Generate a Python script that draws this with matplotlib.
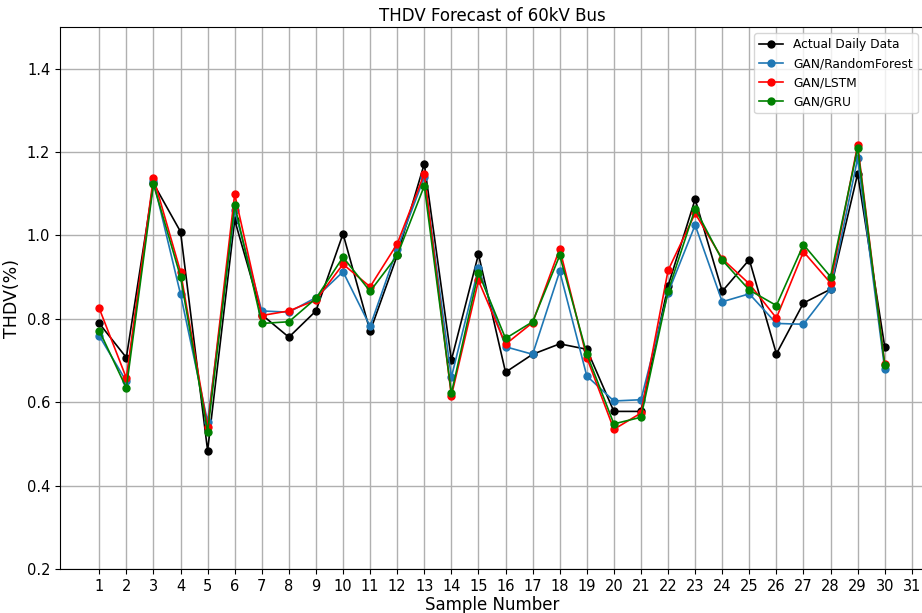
import numpy as np
import matplotlib
matplotlib.use("Agg")
from matplotlib import pyplot as plt

samples = list(range(1, 31))

actual = [0.789, 0.707, 1.125, 1.009, 0.484, 1.037, 0.810, 0.756, 0.819, 1.004,
          0.770, 0.952, 1.172, 0.701, 0.955, 0.672, 0.715, 0.740, 0.727, 0.578,
          0.578, 0.879, 1.087, 0.866, 0.942, 0.716, 0.838, 0.871, 1.148, 0.733]
gan_rf = [0.759, 0.650, 1.131, 0.859, 0.553, 1.060, 0.819, 0.816, 0.851, 0.913,
          0.782, 0.968, 1.140, 0.660, 0.922, 0.733, 0.715, 0.914, 0.663, 0.603,
          0.606, 0.862, 1.025, 0.841, 0.860, 0.789, 0.787, 0.871, 1.185, 0.679]
gan_lstm = [0.825, 0.658, 1.139, 0.913, 0.540, 1.099, 0.808, 0.819, 0.845, 0.931,
            0.877, 0.980, 1.148, 0.615, 0.892, 0.739, 0.791, 0.968, 0.707, 0.535,
            0.574, 0.916, 1.053, 0.944, 0.884, 0.802, 0.961, 0.886, 1.217, 0.692]
gan_gru = [0.772, 0.634, 1.123, 0.901, 0.529, 1.073, 0.789, 0.793, 0.849, 0.948,
           0.866, 0.952, 1.119, 0.621, 0.911, 0.753, 0.793, 0.952, 0.716, 0.548,
           0.564, 0.866, 1.064, 0.941, 0.869, 0.832, 0.978, 0.901, 1.210, 0.690]

series = [
    ("Actual Daily Data", actual, "k"),
    ("GAN/RandomForest", gan_rf, "#1f77b4"),
    ("GAN/LSTM", gan_lstm, "r"),
    ("GAN/GRU", gan_gru, "g"),
]

fig = plt.figure(figsize=(9.22, 6.13), dpi=100)
ax = fig.add_axes([60 / 922, 44 / 613, 864 / 922, 542 / 613])

for name, vals, col in series:
    ax.plot(samples, vals, marker="o", markersize=5, linewidth=1.2, color=col, label=name)

ax.set_ylim(0.2, 1.5)
ax.set_yticks(np.arange(0.2, 1.41, 0.2))
ax.set_xticks(range(1, 32))
ax.tick_params(labelsize=10.5)
ax.grid(True, linewidth=1)
ax.set_title("THDV Forecast of 60kV Bus", fontsize=12, pad=4)
ax.set_xlabel("Sample Number", fontsize=12, labelpad=2)
ax.set_ylabel("THDV(%)", fontsize=12.5)
ax.legend(loc="upper right", fontsize=8.8)

fig.savefig("out.png", dpi=100)
